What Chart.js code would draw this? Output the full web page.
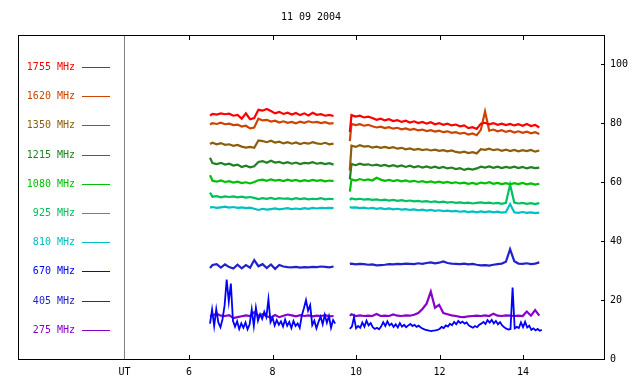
<!DOCTYPE html>
<html>
<head>
<meta charset="utf-8">
<script src="https://cdn.jsdelivr.net/npm/chart.js@4/dist/chart.umd.min.js"></script>
<style>
  html, body { margin: 0; padding: 0; background: #ffffff; }
  #wrap { width: 640px; height: 384px; }
</style>
</head>
<body>
<div id="wrap"><canvas id="c" width="640" height="384"></canvas></div>
<script>
// ---------- DATA ----------
const title = "11 09 2004";
const xTickValues = [6, 8, 10, 12, 14];
const utTick = 4.45;
const yTickValues = [0, 20, 40, 60, 80, 100];

const frequencies = ["1755 MHz", "1620 MHz", "1350 MHz", "1215 MHz", "1080 MHz", "925 MHz", "810 MHz", "670 MHz", "405 MHz", "275 MHz"];

// sample times (UT hours)
function sampleTimes(start, count, step) { const a = []; for (let i = 0; i < count; i++) a.push(+(start + i * step).toFixed(2)); return a; }
const tA = [6.5].concat(sampleTimes(6.56, 30, 0.1));     // 6.50, 6.56 .. 9.46
const tB = [9.85].concat(sampleTimes(9.89, 46, 0.1));    // 9.85, 9.89 .. 14.39
const tAf = sampleTimes(6.5, 61, 0.05);   // fine sampling for 670 MHz
const tBf = sampleTimes(9.85, 93, 0.05);

const f1755A = [82.6,83.2,83.0,83.4,83.1,83.3,82.6,82.9,81.6,83.4,81.4,81.8,84.6,84.3,84.9,84.2,83.4,83.9,83.2,83.6,83.0,83.5,82.8,83.4,82.7,83.6,82.9,83.1,82.6,82.9,82.5];
const f1755B = [77.0,82.8,82.3,82.6,82.0,82.3,81.8,81.2,81.6,81.0,81.4,80.8,81.1,80.5,80.9,80.3,80.7,80.1,80.5,79.9,80.4,79.7,80.1,79.5,79.9,79.3,79.6,79.0,79.3,78.4,78.7,78.1,79.9,80.2,79.7,80.1,79.5,79.9,79.4,79.8,79.3,79.7,79.2,79.8,79.1,79.5,78.6];

const f1620A = [79.6,80.1,79.8,80.2,79.7,79.9,79.4,79.6,78.9,79.2,78.3,78.6,81.6,81.0,81.2,80.6,80.9,80.3,80.7,80.2,80.5,80.0,80.6,80.2,80.7,80.3,80.5,80.1,80.4,79.9,80.1];
const f1620B = [74.0,79.8,79.4,79.7,79.2,79.5,79.0,78.6,78.9,78.4,78.7,78.2,78.5,78.0,78.3,77.8,78.1,77.6,77.9,77.4,77.7,77.2,77.5,77.0,77.3,76.8,77.0,76.5,76.8,76.2,76.6,76.0,77.8,84.0,77.5,77.9,77.3,77.7,77.1,77.5,76.9,77.3,76.8,77.2,76.6,77.0,76.4];

const f1350A = [73.0,73.4,72.9,73.3,72.7,72.9,72.4,72.7,72.1,71.8,72.0,71.7,74.2,74.0,73.6,74.1,73.5,73.8,73.2,73.6,73.1,73.5,73.0,73.4,73.1,73.6,73.2,73.0,73.4,72.9,73.1];
const f1350B = [64.0,72.4,72.0,72.6,72.1,72.3,71.8,72.1,71.7,72.0,71.6,71.9,71.4,71.7,71.2,71.5,71.0,71.3,70.9,71.2,70.8,71.1,70.7,70.9,70.5,70.8,70.3,70.1,70.4,69.9,70.2,69.8,71.2,71.0,71.4,70.9,71.2,70.7,71.1,70.6,71.0,70.5,70.9,70.6,71.0,70.4,70.8];

const f1215A = [68.3,66.5,66.2,66.6,66.0,66.3,65.7,66.0,65.2,65.6,65.1,65.4,66.9,67.2,66.6,67.3,66.7,66.9,66.4,66.8,66.3,66.7,66.2,66.6,66.4,66.8,66.3,66.6,66.2,66.5,66.0];
const f1215B = [61.0,66.2,65.8,66.3,65.9,66.1,65.7,66.0,65.6,65.9,65.4,65.8,65.3,65.7,65.2,65.6,65.1,65.5,65.0,65.4,64.9,65.3,64.8,65.2,64.7,65.0,64.5,64.8,64.2,64.6,64.3,64.7,65.3,65.0,65.4,64.9,65.3,64.8,65.2,64.9,65.3,64.8,65.2,64.7,65.1,64.8,65.0];

const f1080A = [62.4,60.5,60.2,60.6,60.1,60.4,59.9,60.2,59.7,60.0,59.6,60.1,60.7,60.9,60.5,61.0,60.6,60.8,60.4,60.9,60.5,60.8,60.3,60.7,60.4,60.8,60.5,60.7,60.3,60.6,60.4];
const f1080B = [56.8,61.0,60.6,61.1,60.7,61.0,60.6,61.5,60.9,60.5,60.8,60.4,60.7,60.3,60.6,60.2,60.5,60.1,60.4,60.0,60.3,59.9,60.2,59.8,60.1,59.7,60.0,59.6,59.9,59.5,59.8,59.4,59.9,59.6,60.0,59.5,59.8,59.4,59.7,59.3,59.7,59.4,59.8,59.3,59.6,59.2,59.5];

const f925A = [56.5,55.1,55.3,54.9,55.2,55.0,55.2,54.9,55.1,54.8,55.0,54.7,54.3,54.6,54.4,54.7,54.3,54.6,54.4,54.5,54.2,54.6,54.3,54.5,54.2,54.4,54.3,54.6,54.2,54.4,54.3];
const f925B = [54.0,54.5,54.2,54.4,54.1,54.3,54.0,54.2,53.9,54.1,53.8,54.0,53.7,53.9,53.6,53.8,53.5,53.7,53.4,53.6,53.3,53.5,53.2,53.4,53.1,53.3,53.0,53.2,52.9,53.1,52.8,53.0,53.2,52.9,53.1,52.8,53.0,52.7,53.0,59.2,53.1,52.8,53.0,52.7,52.9,52.6,52.9];

const f810A = [51.4,51.6,51.3,51.5,51.7,51.4,51.6,51.3,51.5,51.2,51.4,51.0,50.6,51.0,50.7,50.9,51.1,50.8,51.0,51.2,50.9,51.1,50.9,51.2,51.0,51.3,51.1,51.3,51.2,51.3,51.2];
const f810B = [51.6,51.4,51.5,51.2,51.4,51.1,51.3,51.0,51.2,50.9,51.1,50.8,51.0,50.7,50.9,50.6,50.8,50.5,50.7,50.4,50.6,50.3,50.5,50.2,50.4,50.1,50.3,50.0,50.2,49.9,50.1,49.8,50.1,49.9,50.1,49.8,50.0,49.7,49.9,52.6,49.8,49.6,49.9,49.6,49.8,49.5,49.7];

const f670A = [12.0,16.8,11.2,16.9,12.4,10.8,13.5,18.2,27.0,19.5,25.6,13.0,11.0,12.8,10.2,12.1,10.6,12.4,10.1,11.8,16.8,11.2,17.4,13.0,15.2,13.6,16.0,14.2,20.3,12.5,14.0,11.4,13.2,11.6,12.8,11.0,13.4,11.3,12.6,10.5,12.9,11.2,12.1,10.6,14.8,17.2,20.0,16.4,18.3,11.5,13.0,10.4,12.6,14.4,11.8,15.0,12.3,14.6,10.6,13.2,12.0];
const f670B = [10.2,11.0,14.2,10.4,11.2,10.6,12.4,11.0,13.0,11.4,12.2,10.8,10.2,10.6,10.1,11.0,12.5,11.2,12.8,11.4,12.0,10.9,11.8,10.7,12.2,11.0,11.6,10.8,11.4,11.9,11.2,11.6,10.9,11.3,10.7,10.3,10.0,9.8,9.6,9.5,9.6,9.7,9.9,10.2,10.9,10.5,11.4,11.0,12.0,11.5,12.6,11.8,12.9,12.2,12.7,12.0,12.4,11.4,11.0,10.6,11.2,10.8,11.6,12.0,12.6,11.9,13.2,12.4,13.3,12.1,12.9,11.8,12.5,11.4,10.8,10.3,10.0,10.2,24.3,10.4,10.9,10.5,12.4,10.8,12.6,10.7,11.3,9.9,10.4,9.7,10.2,9.6,9.9];

const f405A = [30.9,31.9,32.2,31.0,32.1,31.2,30.7,32.0,30.8,31.9,31.0,33.6,31.5,32.2,30.9,32.1,30.6,31.9,31.4,31.2,31.1,31.3,31.0,31.2,31.1,31.3,31.2,31.4,31.3,31.1,31.4];
const f405B = [32.3,32.4,32.1,32.3,32.2,32.0,32.1,31.8,31.9,32.0,32.2,32.1,32.3,32.2,32.4,32.3,32.2,32.5,32.3,32.6,32.8,32.5,32.7,33.1,32.6,32.4,32.3,32.2,32.4,32.1,32.3,32.0,31.8,31.9,31.7,32.0,32.2,32.4,33.0,37.3,33.2,32.4,32.3,32.5,32.2,32.4,32.8];

const f275A = [14.6,14.8,15.4,14.7,14.6,14.9,13.9,14.2,14.5,14.8,14.6,15.9,14.7,15.2,14.5,14.1,14.9,14.2,14.7,15.1,14.8,14.5,14.9,14.6,14.8,14.5,14.7,14.6,14.9,14.5,14.6];
const f275B = [14.7,15.2,14.6,14.8,14.6,14.7,14.6,15.3,14.6,14.7,14.6,15.1,14.7,14.6,14.8,14.7,15.0,15.6,17.0,18.8,22.9,17.4,18.4,15.6,15.2,14.8,14.6,14.3,14.2,14.5,14.6,14.7,14.6,14.8,14.6,15.4,14.7,14.6,14.8,14.7,14.6,14.7,14.6,16.1,14.7,16.6,14.7];

const seriesColors = ["#ff0000", "#cc4400", "#8c5e0a", "#228022", "#00c000", "#00c060", "#00c0c0", "#0000ff", "#2222cc", "#8800cc"];

// ---------- BUILD ----------
function seg(times, vals) { return vals.map((v, i) => ({ x: times[i], y: v })); }
function joined(tsA, vA, tsB, vB) { return seg(tsA, vA).concat([{ x: 9.7, y: null }], seg(tsB, vB)); }

const seriesData = [
  joined(tA, f1755A, tB, f1755B),
  joined(tA, f1620A, tB, f1620B),
  joined(tA, f1350A, tB, f1350B),
  joined(tA, f1215A, tB, f1215B),
  joined(tA, f1080A, tB, f1080B),
  joined(tA, f925A, tB, f925B),
  joined(tA, f810A, tB, f810B),
  joined(tAf, f670A, tBf, f670B),
  joined(tA, f405A, tB, f405B),
  joined(tA, f275A, tB, f275B)
];

const FONT = "DejaVu Sans Mono";

const datasets = frequencies.map((f, i) => ({
  label: f,
  data: seriesData[i],
  borderColor: seriesColors[i],
  backgroundColor: seriesColors[i],
  borderWidth: (i === 7) ? 1.8 : 2.2,
  pointRadius: 0,
  tension: 0,
  spanGaps: false
}));

const framePlugin = {
  id: 'frame',
  afterDraw(chart) {
    const ctx = chart.ctx;
    const a = chart.chartArea;
    const xs = chart.scales.x, ys = chart.scales.y;
    ctx.save();
    // title
    ctx.fillStyle = '#000';
    ctx.font = '10px "' + FONT + '"';
    ctx.textAlign = 'center';
    ctx.textBaseline = 'middle';
    ctx.fillText(title, (a.left + a.right) / 2, 17);
    // UT line
    const ux = Math.round(xs.getPixelForValue(utTick));
    ctx.fillStyle = '#808080';
    ctx.fillRect(ux, a.top, 1, a.bottom - a.top);
    // frame
    ctx.strokeStyle = '#000';
    ctx.lineWidth = 1;
    ctx.strokeRect(Math.round(a.left) + 0.5, Math.round(a.top) + 0.5, Math.round(a.right - a.left), Math.round(a.bottom - a.top));
    // x tick marks (top and bottom, inside)
    ctx.fillStyle = '#000';
    xTickValues.forEach(v => {
      const px = Math.round(xs.getPixelForValue(v));
      ctx.fillRect(px, Math.round(a.bottom) - 4, 1, 4);
      ctx.fillRect(px, Math.round(a.top) + 1, 1, 4);
    });
    // y tick marks (right, inside)
    yTickValues.forEach(v => {
      if (v === 0) return;
      const py = Math.round(ys.getPixelForValue(v));
      ctx.fillRect(Math.round(a.right) - 3, py, 3, 1);
    });
    // legend
    ctx.textAlign = 'right';
    ctx.font = '10px "' + FONT + '"';
    frequencies.forEach((f, i) => {
      const y = Math.round(a.top + 32 + i * 29.2);
      ctx.fillStyle = seriesColors[i];
      ctx.fillText(f, a.left + 57, y + 0.5);
      ctx.fillRect(a.left + 64, y, 28, 1);
    });
    ctx.restore();
  }
};

new Chart(document.getElementById('c'), {
  type: 'line',
  data: { datasets },
  options: {
    responsive: false,
    animation: false,
    devicePixelRatio: 1,
    layout: { padding: { left: 18, top: 35, right: 0, bottom: 0 } },
    plugins: { legend: { display: false }, title: { display: false }, tooltip: { enabled: false } },
    scales: {
      x: {
        type: 'linear', min: 1.9, max: 15.94,
        afterBuildTicks: (axis) => { axis.ticks = [utTick].concat(xTickValues).map(v => ({ value: v })); },
        afterFit: (s) => { s.height = 25; },
        grid: { display: false, drawTicks: false },
        border: { display: false },
        ticks: {
          autoSkip: false, maxRotation: 0, padding: 7, color: '#000',
          font: { family: FONT, size: 10 },
          callback: (v) => (v === utTick ? 'UT' : String(v))
        }
      },
      y: {
        type: 'linear', position: 'right', min: 0, max: 110,
        afterBuildTicks: (axis) => { axis.ticks = yTickValues.map(v => ({ value: v })); },
        afterFit: (s) => { s.width = 36; },
        grid: { display: false, drawTicks: false },
        border: { display: false },
        ticks: { padding: 6, color: '#000', font: { family: FONT, size: 10 } }
      }
    }
  },
  plugins: [framePlugin]
});
</script>
</body>
</html>
